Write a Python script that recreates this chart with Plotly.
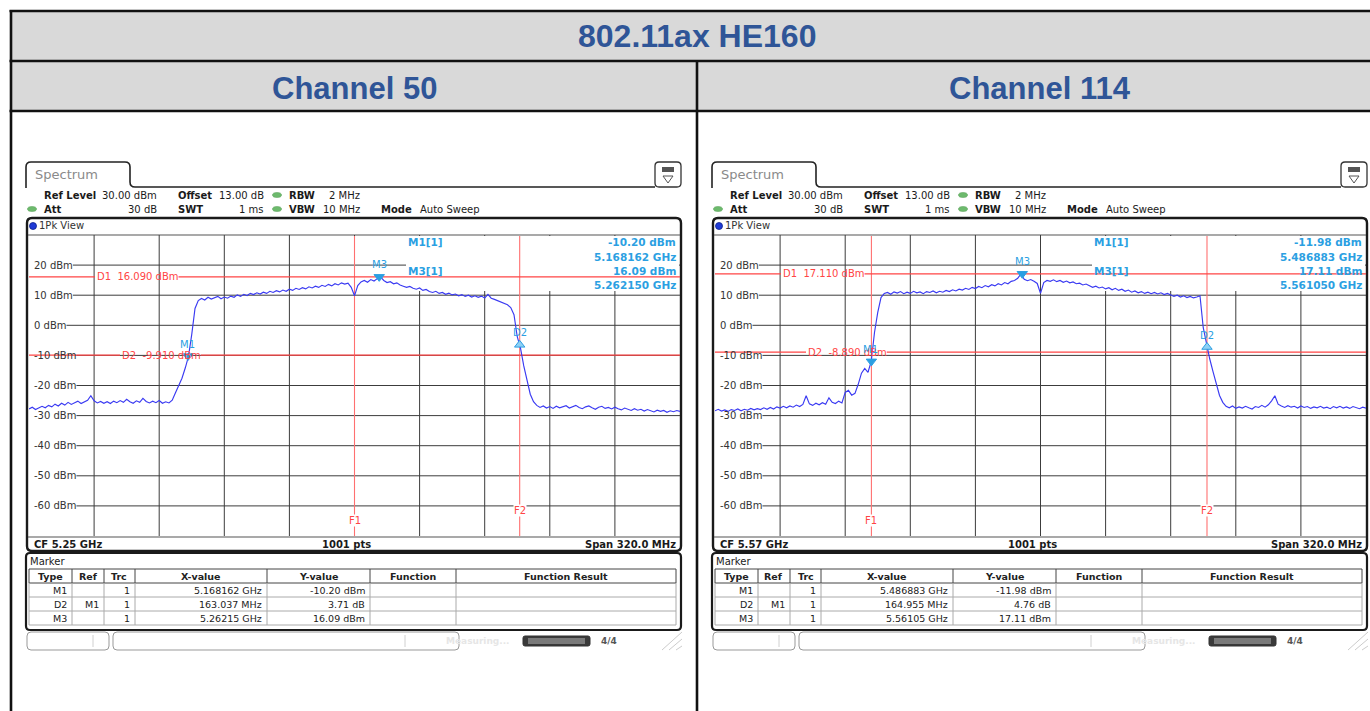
import numpy as np
import plotly.graph_objects as go

W, H = 1370, 711
FONT = "DejaVu Sans"
HEAD_FONT = "Liberation Sans, Arial, sans-serif"

# ---------------- data ----------------
TITLE = "802.11ax HE160"
CHANNELS = ["Channel 50", "Channel 114"]
CENTER_GHZ = [5.25, 5.57]
SPAN_MHZ = 320.0
SWEEP_POINTS = 1001
STEP_MHZ = 1.6
REF_LEVEL_DBM = 30.0
RANGE_DB = 100.0
LEVEL_TICKS_DBM = [20, 10, 0, -10, -20, -30, -40, -50, -60]

ch50_dbm = [
    -27.8, -27.2, -28.0, -27.5, -26.9, -27.4, -26.6, -27.1, -26.2, -26.8,
    -25.9, -26.5, -25.6, -26.3, -25.8, -25.2, -26.0, -25.5, -24.9, -23.4,
    -25.1, -25.8, -25.3, -25.9, -25.4, -26.0, -25.2, -25.7, -25.0, -25.6,
    -24.6, -25.4, -25.9, -25.1, -25.6, -24.3, -25.3, -25.8, -25.2, -25.7,
    -25.0, -25.9, -25.4, -25.8, -24.9, -22.4, -20.1, -17.6, -14.2, -10.3,
    -3.0, 5.6, 8.2, 8.9, 8.4, 9.3, 8.7, 9.1, 9.6, 8.8,
    9.4, 9.0, 9.7, 9.3, 10.1, 9.6, 10.3, 9.9, 10.6, 10.2,
    10.8, 10.4, 11.0, 10.6, 11.3, 10.9, 11.5, 11.1, 11.7, 11.3,
    12.0, 11.6, 12.3, 11.9, 12.5, 12.1, 12.8, 12.4, 13.0, 12.6,
    13.3, 12.9, 13.6, 13.1, 13.8, 13.4, 14.1, 13.7, 14.0, 12.6,
    9.8, 13.2, 14.4, 14.9, 14.3, 15.2, 14.7, 15.5, 16.09, 14.9,
    14.2, 14.5, 13.8, 14.1, 13.4, 13.0, 12.6, 12.9, 12.3, 12.0,
    12.4, 11.6, 11.9, 11.2, 10.9, 11.3, 10.6, 10.9, 10.3, 10.7,
    10.1, 10.4, 9.8, 10.2, 9.6, 10.0, 9.4, 9.8, 9.3, 9.7,
    9.1, 10.3, 9.0, 8.6, 8.1, 7.6, 7.2, 6.8, 5.9, 3.5,
    -3.8, -7.6, -13.5, -18.2, -22.9, -25.4, -26.6, -27.3, -26.8, -27.5,
    -27.0, -27.6, -26.9, -27.4, -27.1, -26.7, -27.5, -27.0, -26.6, -27.3,
    -27.7, -27.1, -26.8, -27.4, -27.9, -27.2, -26.9, -27.6, -27.3, -27.8,
    -27.2, -27.7, -28.1, -27.5, -27.9, -28.3, -27.7, -28.2, -27.9, -28.5,
    -28.0, -28.4, -28.8, -28.2, -28.6, -28.3, -28.9, -28.4, -28.7, -28.3,
    -28.6,
]

ch114_dbm = [
    -28.4, -27.9, -28.5, -28.1, -28.6, -28.0, -28.3, -27.8, -28.4, -27.9,
    -28.2, -27.6, -28.1, -27.7, -28.0, -27.4, -27.9, -27.3, -27.8, -27.1,
    -27.5, -26.9, -27.4, -26.8, -27.2, -26.5, -27.0, -26.3, -23.4, -26.1,
    -26.6, -25.9, -26.4, -25.7, -26.2, -24.1, -25.6, -26.0, -25.2, -25.8,
    -22.3, -21.6, -23.2, -22.6, -19.6, -15.9, -14.3, -15.6, -11.98, -2.4,
    4.3, 9.2, 10.6, 10.9, 10.3, 11.1, 10.7, 11.2, 10.5, 11.0,
    10.6, 11.3, 10.8, 11.1, 10.5, 11.2, 10.9, 11.4, 10.8, 11.3,
    11.0, 11.6, 11.2, 11.8, 11.4, 12.0, 11.7, 12.3, 11.9, 12.6,
    12.2, 12.9, 12.5, 13.2, 12.8, 13.5, 13.1, 13.8, 13.4, 14.2,
    13.8, 14.6, 14.9, 15.6, 17.11, 15.3, 14.8, 15.2, 14.6, 13.9,
    10.6, 14.2, 14.9, 14.6, 15.1, 14.5, 14.9, 14.3, 14.7, 14.1,
    14.4, 13.8, 14.0, 13.4, 13.7, 13.1, 12.6, 13.0, 12.4, 12.7,
    12.1, 12.5, 11.8, 12.3, 11.6, 12.0, 11.3, 11.7, 11.0, 11.4,
    10.8, 11.2, 10.6, 11.0, 10.5, 10.9, 10.4, 10.8, 10.2, 10.6,
    10.0, 9.6, 10.0, 9.4, 9.8, 9.2, 9.6, 9.1, 9.4, 9.8,
    -0.8, -6.6, -11.2, -15.4, -19.6, -23.3, -25.6, -26.9, -27.4, -26.8,
    -27.6, -27.1, -27.5, -26.9, -27.4, -27.8, -27.0, -27.3, -26.6, -27.2,
    -26.4, -25.1, -23.4, -26.2, -26.8, -27.3, -26.7, -27.2, -26.9, -27.5,
    -26.8, -27.3, -27.0, -27.6, -27.1, -27.4, -26.9, -27.5, -27.2, -27.7,
    -27.0, -27.4, -26.9, -27.5, -27.1, -27.6, -27.0, -27.3, -27.7, -27.2,
    -27.5,
]

# marker readouts: [GHz, dBm]; delta marker: [MHz, dB] relative to M1
ch50_m1 = [5.168162, -10.20]
ch50_d2_delta = [163.037, 3.71]
ch50_m3 = [5.26215, 16.09]
ch50_d_lines = [16.090, -9.910]
ch50_f_lines = [5.25, 5.331199]

ch114_m1 = [5.486883, -11.98]
ch114_d2_delta = [164.955, 4.76]
ch114_m3 = [5.56105, 17.11]
ch114_d_lines = [17.110, -8.890]
ch114_f_lines = [5.486883, 5.651838]

panels = [
    dict(cf=CENTER_GHZ[0], dbm=ch50_dbm, m1=ch50_m1, d2=ch50_d2_delta, m3=ch50_m3,
         dl=ch50_d_lines, fl=ch50_f_lines),
    dict(cf=CENTER_GHZ[1], dbm=ch114_dbm, m1=ch114_m1, d2=ch114_d2_delta, m3=ch114_m3,
         dl=ch114_d_lines, fl=ch114_f_lines),
]

# ---------------- helpers (pixel -> paper) ----------------
def X(p):
    return p / W


def Y(p):
    return 1 - p / H


shapes, annos = [], []


def seg(x0, y0, x1, y1, color, width=1.0, xref="paper", yref="paper"):
    shapes.append(dict(type="line", x0=x0, y0=y0, x1=x1, y1=y1, xref=xref, yref=yref,
                       line=dict(color=color, width=width), layer="below"))


def pseg(x0, y0, x1, y1, color, width=1.0):
    seg(X(x0), Y(y0), X(x1), Y(y1), color, width)


def prect(x0, y0, x1, y1, fill=None, color=None, width=0):
    shapes.append(dict(type="rect", xref="paper", yref="paper",
                       x0=X(x0), y0=Y(y1), x1=X(x1), y1=Y(y0),
                       fillcolor=fill or "rgba(0,0,0,0)",
                       line=dict(color=color or "rgba(0,0,0,0)", width=width),
                       layer="below"))


def rpath(x0, y0, x1, y1, r):
    return (f"M{X(x0 + r)},{Y(y0)} L{X(x1 - r)},{Y(y0)} Q{X(x1)},{Y(y0)} {X(x1)},{Y(y0 + r)} "
            f"L{X(x1)},{Y(y1 - r)} Q{X(x1)},{Y(y1)} {X(x1 - r)},{Y(y1)} L{X(x0 + r)},{Y(y1)} "
            f"Q{X(x0)},{Y(y1)} {X(x0)},{Y(y1 - r)} L{X(x0)},{Y(y0 + r)} Q{X(x0)},{Y(y0)} {X(x0 + r)},{Y(y0)} Z")


def proundrect(x0, y0, x1, y1, r, color, width, fill=None):
    shapes.append(dict(type="path", path=rpath(x0, y0, x1, y1, r), xref="paper", yref="paper",
                       line=dict(color=color, width=width),
                       fillcolor=fill or "rgba(0,0,0,0)", layer="below"))


def text(x, y, s, size=10, color="#1a1a1a", anchor="left", bold=False, family=FONT,
         xref="paper", yref="paper", bg=None, yshift=0, xshift=0):
    a = dict(x=x, y=y, xref=xref, yref=yref, text=f"<b>{s}</b>" if bold else s,
             showarrow=False, xanchor=anchor, yanchor="middle", borderpad=0,
             font=dict(family=family, size=size, color=color), yshift=yshift, xshift=xshift)
    if bg:
        a["bgcolor"] = bg
    annos.append(a)


def ptext(x, y, s, **kw):
    text(X(x), Y(y), s, **kw)


DJV = {**{str(d): 0.636 for d in range(10)}, " ": 0.318, "\u00a0": 0.318, "-": 0.361,
       ".": 0.318, "d": 0.635, "B": 0.686, "m": 0.974, "D": 0.770}


def text_w(s, size):
    return sum(DJV.get(c, 0.6) for c in s) * size


# ---------------- outer table ----------------
HEAD_BLUE = "#2f5597"
prect(11, 11, 1372, 61, fill="#d9d9d9")
prect(11, 61, 1372, 111, fill="#d9d9d9")
for yy in (11, 61, 111):
    pseg(9.5, yy, 1372, yy, "#111", 2.6)
pseg(11, 10, 11, 712, "#111", 2.6)
pseg(697, 61, 697, 712, "#111", 2.6)
ptext(697, 36, TITLE, size=32, color=HEAD_BLUE, anchor="center", bold=True, family=HEAD_FONT)
ptext(354, 88, CHANNELS[0], size=31, color=HEAD_BLUE, anchor="center", bold=True, family=HEAD_FONT)
ptext(1040, 88, CHANNELS[1], size=31, color=HEAD_BLUE, anchor="center", bold=True, family=HEAD_FONT)

PANEL_DX = [0, 686]
GRID = "#3c3c3c"
RED = "#ff4545"
FRED = "#ff7070"
MBLUE = "#2b9fe2"
TRACE = "#3a3af2"

layout_axes = {}
traces = []

for p, pn in enumerate(panels):
    ox = PANEL_DX[p]
    xa = "x" if p == 0 else "x2"
    ya = "y" if p == 0 else "y2"
    f_lo = pn["cf"] - SPAN_MHZ / 2000
    f_hi = pn["cf"] + SPAN_MHZ / 2000
    y_lo = REF_LEVEL_DBM - RANGE_DB

    sfx = "" if p == 0 else "2"
    layout_axes["xaxis" + sfx] = dict(domain=[X(29 + ox), X(680 + ox)], range=[f_lo, f_hi],
                                      visible=False, anchor=ya, fixedrange=True)
    layout_axes["yaxis" + sfx] = dict(domain=[Y(536), Y(235)], range=[y_lo, REF_LEVEL_DBM],
                                      visible=False, anchor=xa, fixedrange=True)

    # --- tab and header bar ---
    tab = (f"M{X(26 + ox)},{Y(188)} L{X(26 + ox)},{Y(167)} Q{X(26 + ox)},{Y(162)} {X(31 + ox)},{Y(162)} "
           f"L{X(125 + ox)},{Y(162)} Q{X(130 + ox)},{Y(162)} {X(130 + ox)},{Y(167)} "
           f"L{X(130 + ox)},{Y(182)} Q{X(130 + ox)},{Y(187)} {X(135 + ox)},{Y(187)} L{X(655 + ox)},{Y(187)}")
    shapes.append(dict(type="path", path=tab, xref="paper", yref="paper",
                       line=dict(color="#222", width=1.6), layer="below"))
    ptext(34 + ox, 174, "Spectrum", size=13, color="#8a8a8a")
    proundrect(655 + ox, 162, 681 + ox, 187, 4, "#333", 1.3, fill="white")
    prect(662 + ox, 167, 674 + ox, 172, fill="#555")
    shapes.append(dict(type="path", xref="paper", yref="paper", layer="below",
                       path=f"M{X(663 + ox)},{Y(176)} L{X(673 + ox)},{Y(176)} L{X(668 + ox)},{Y(183)} Z",
                       line=dict(color="#555", width=1)))

    # instrument settings lines
    ptext(43 + ox, 195, "Ref Level", bold=True)
    ptext(158 + ox, 195, f"{REF_LEVEL_DBM:.2f} dBm", anchor="right")
    ptext(177 + ox, 195, "Offset", bold=True)
    ptext(265 + ox, 195, "13.00 dB", anchor="right")
    ptext(288 + ox, 195, "RBW", bold=True)
    ptext(361 + ox, 195, "2 MHz", anchor="right")
    ptext(43 + ox, 209, "Att", bold=True)
    ptext(158 + ox, 209, "30 dB", anchor="right")
    ptext(177 + ox, 209, "SWT", bold=True)
    ptext(265 + ox, 209, "1 ms", anchor="right")
    ptext(288 + ox, 209, "VBW", bold=True)
    ptext(361 + ox, 209, "10 MHz", anchor="right")
    ptext(380 + ox, 209, "Mode", bold=True)
    ptext(419 + ox, 209, "Auto Sweep")
    for (cx, cy) in ((277, 195), (277, 209), (32, 209)):
        shapes.append(dict(type="circle", xref="paper", yref="paper", layer="below",
                           x0=X(cx - 4.5 + ox), x1=X(cx + 4.5 + ox), y0=Y(cy + 2.5), y1=Y(cy - 2.5),
                           fillcolor="#6dba6d", line=dict(color="#4f9a4f", width=0.5)))

    # --- diagram frame ---
    proundrect(27 + ox, 218, 681 + ox, 551, 5, "#1a1a1a", 2.4)
    pseg(28 + ox, 235, 680 + ox, 235, "#555", 1.2)
    pseg(28 + ox, 537, 680 + ox, 537, "#555", 1.2)
    shapes.append(dict(type="circle", xref="paper", yref="paper", layer="below",
                       x0=X(29.5 + ox), x1=X(36.5 + ox), y0=Y(229.5), y1=Y(222.5),
                       fillcolor="#1f3ad6", line=dict(color="#0c1f8a", width=0.8)))
    ptext(38 + ox, 226, "1Pk View", color="#333")

    # vertical graticule
    for k in range(1, 10):
        fx = f_lo + k * (f_hi - f_lo) / 10
        seg(fx, Y(235), fx, Y(536), GRID, 1, xref=xa, yref="paper")
    # horizontal graticule with level labels
    for lv in LEVEL_TICKS_DBM:
        lab = f"{lv} dBm"
        x_end = 33 + text_w(lab, 10) + 1
        seg(X(x_end + ox), lv, X(680 + ox), lv, GRID, 1, xref="paper", yref=ya)
        text(X(33 + ox), lv, lab, color="#333", yref=ya)

    # marker readout area keeps a clean background
    prect(406 + ox, 236, 679 + ox, 291, fill="white")

    # frequency lines F1/F2
    for j, fx in enumerate(pn["fl"]):
        seg(fx, Y(236), fx, Y(536), FRED, 1.1, xref=xa, yref="paper")
        text(fx, Y(520 if j == 0 else 510), f"F{j + 1}", size=10, color=RED,
             anchor="center", xref=xa, bg="white")

    # display lines D1/D2 with inline labels
    for j, (lv, lx) in enumerate(zip(pn["dl"], (96, 121))):
        lab = f"D{j + 1}\u00a0\u00a0{lv:.3f} dBm"
        lw = text_w(lab, 10)
        seg(X(29 + ox), lv, X(lx - 1 + ox), lv, RED, 1.2, yref=ya)
        seg(X(lx + lw + 1 + ox), lv, X(680 + ox), lv, RED, 1.2, yref=ya)
        text(X(lx + ox), lv, lab, color=RED, yref=ya)

    # trace
    freqs = (pn["cf"] * 1000 - SPAN_MHZ / 2 + STEP_MHZ * np.arange(len(pn["dbm"]))) / 1000
    traces.append(go.Scatter(x=freqs, y=pn["dbm"], mode="lines", xaxis=xa, yaxis=ya,
                             line=dict(color=TRACE, width=1.15), hoverinfo="skip", showlegend=False))

    # markers
    m1x, m1y = pn["m1"]
    d2x = m1x + pn["d2"][0] / 1000
    d2y = m1y + pn["d2"][1]
    m3x, m3y = pn["m3"]
    traces.append(go.Scatter(x=[m1x, d2x, m3x], y=[m1y, d2y, m3y], mode="markers", xaxis=xa, yaxis=ya,
                             marker=dict(symbol=["triangle-down", "triangle-up", "triangle-down"], size=9,
                                         color=[MBLUE, "#8fd0f5", MBLUE], line=dict(color=MBLUE, width=1)),
                             hoverinfo="skip", showlegend=False))
    for (mx, my, ml, dx) in ((m1x, m1y, "M1", -1), (d2x, d2y, "D2", 0), (m3x, m3y, "M3", 0)):
        text(mx, my, ml, size=10, color=MBLUE, anchor="center", xref=xa, yref=ya, yshift=12, xshift=dx)

    # marker readout block
    ptext(407 + ox, 242, "M1[1]", size=10.5, color=MBLUE, bold=True)
    ptext(677 + ox, 242, f"{m1y:.2f} dBm", size=10.5, color=MBLUE, bold=True, anchor="right")
    ptext(677 + ox, 257, f"{m1x:.6f} GHz", size=10.5, color=MBLUE, bold=True, anchor="right")
    ptext(407 + ox, 271, "M3[1]", size=10.5, color=MBLUE, bold=True)
    ptext(677 + ox, 271, f"{m3y:.2f} dBm", size=10.5, color=MBLUE, bold=True, anchor="right")
    ptext(677 + ox, 285, f"{m3x:.6f} GHz", size=10.5, color=MBLUE, bold=True, anchor="right")

    # footer of the diagram
    ptext(33 + ox, 544, f"CF {pn['cf']:g} GHz", bold=True)
    ptext(346 + ox, 544, f"{SWEEP_POINTS} pts", bold=True, anchor="center")
    ptext(677 + ox, 544, f"Span {SPAN_MHZ:.1f} MHz", bold=True, anchor="right")

    # --- marker table ---
    proundrect(26 + ox, 553, 681 + ox, 630, 4, "#1a1a1a", 2.2)
    ptext(29 + ox, 561, "Marker", size=10, color="#222")
    cols = [29, 72, 104, 135, 267, 370, 456, 676]
    rows = [569, 583, 597, 611, 625]
    for r in rows:
        pseg(cols[0] + ox, r, cols[-1] + ox, r, "#444" if r in (569, 583) else "#aaa", 1)
    for c in cols:
        pseg(c + ox, 569, c + ox, 583, "#444", 1)
        pseg(c + ox, 583, c + ox, 625, "#aaa", 1)
    heads = ["Type", "Ref", "Trc", "X-value", "Y-value", "Function", "Function Result"]
    for i, hd in enumerate(heads):
        ptext((cols[i] + cols[i + 1]) / 2 + ox, 576, hd, size=9.5, bold=True, anchor="center", color="#222")

    def fmt_ghz(v):
        return f"{v:.6f}".rstrip("0") + " GHz"

    table_rows = [
        ["M1", "", "1", fmt_ghz(m1x), f"{m1y:.2f} dBm"],
        ["D2", "M1", "1", f"{pn['d2'][0]:.3f} MHz", f"{pn['d2'][1]:.2f} dB"],
        ["M3", "", "1", fmt_ghz(m3x), f"{m3y:.2f} dBm"],
    ]
    for ri, row in enumerate(table_rows):
        yy = 590 + 14 * ri
        for ci, cell in enumerate(row):
            if cell:
                ptext(cols[ci + 1] - 4 + ox, yy, cell, size=9.5, anchor="right", color="#222")

    # --- status bar ---
    proundrect(27 + ox, 632, 109 + ox, 650, 4, "#999", 1)
    proundrect(113 + ox, 632, 459 + ox, 650, 4, "#999", 1)
    pseg(93 + ox, 635, 93 + ox, 647, "#d0d0d0", 1)
    pseg(405 + ox, 635, 405 + ox, 647, "#d0d0d0", 1)
    ptext(445 + ox, 641, "Measuring...", size=9, color="#e6e6e6", bold=True)
    proundrect(523 + ox, 636, 590 + ox, 646, 2, "#333", 1, fill="#3a3a3a")
    prect(528 + ox, 638, 585 + ox, 644, fill="#7a7a7a")
    ptext(600 + ox, 641, "4/4", size=9, color="#555", bold=True)
    for d in (0, 7, 14):
        pseg(662 + d + ox, 650, 682 + ox, 632 + d, "#cccccc", 1)

fig = go.Figure(data=traces)
fig.update_layout(
    width=W, height=H, autosize=False,
    margin=dict(l=0, r=0, t=0, b=0, pad=0),
    paper_bgcolor="white", plot_bgcolor="rgba(0,0,0,0)",
    shapes=shapes, annotations=annos, showlegend=False,
    **layout_axes,
)
fig.write_html("out.html")
